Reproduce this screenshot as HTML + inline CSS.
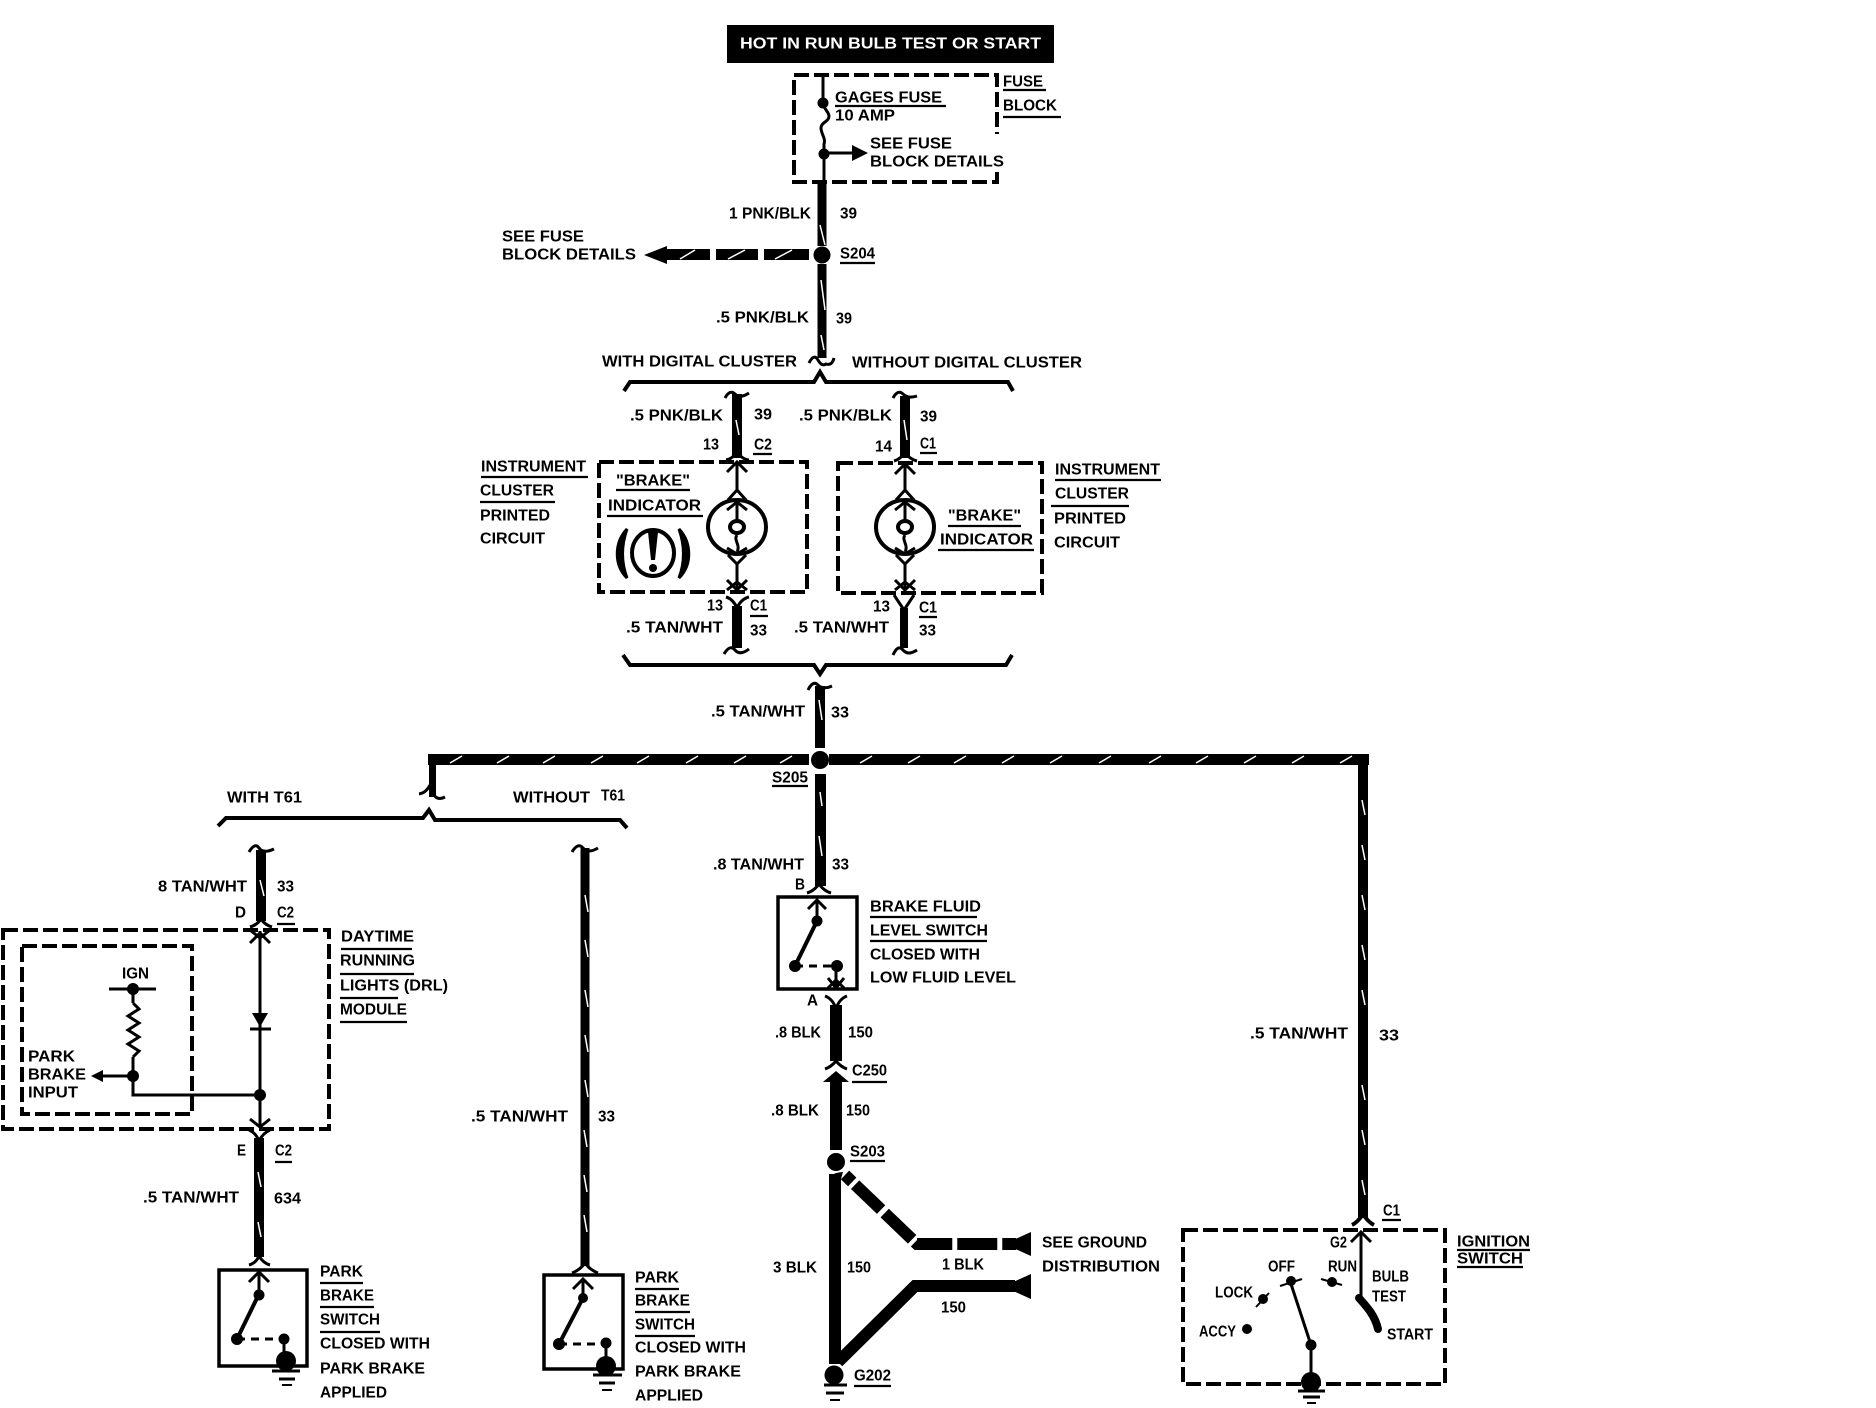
<!DOCTYPE html>
<html><head><meta charset="utf-8"><style>
html,body{margin:0;padding:0;background:#fff}
svg{display:block}
text{font-family:"Liberation Sans",sans-serif;font-weight:bold;font-size:16px;dominant-baseline:central;fill:#000}
.w{fill:none;stroke:#000;stroke-width:10}
.t{fill:none;stroke:#000;stroke-width:3}
.d{fill:none;stroke:#000;stroke-width:4;stroke-dasharray:15 5}
.u{stroke:#000;stroke-width:2.2}
.s{stroke:#fff;stroke-width:1.5}
</style></head><body>
<svg width="1876" height="1408" viewBox="0 0 1876 1408" xmlns="http://www.w3.org/2000/svg">
<rect width="1876" height="1408" fill="#fff"/>
<!-- header -->
<rect x="727" y="25" width="327" height="38" fill="#000"/>
<text x="740" y="44" textLength="301" lengthAdjust="spacingAndGlyphs" style="fill:#fff">HOT IN RUN BULB TEST OR START</text>
<!-- fuse block -->
<rect x="794" y="75" width="203" height="107" class="d"/>
<rect x="992" y="134" width="10" height="35" fill="#fff"/>
<path class="t" d="M823 75V103C823 108 829 112 829 116C829 122 821 122 821 128C821 134 826 138 824 144V182"/>
<circle cx="823" cy="103" r="5.5"/><circle cx="824" cy="154" r="5.5"/>
<path class="t" d="M824 153H855"/><path d="M852 145L868 153L852 161Z"/>
<text x="835" y="98" textLength="107" lengthAdjust="spacingAndGlyphs">GAGES FUSE</text><line class="u" x1="835" y1="106" x2="946" y2="106"/>
<text x="835" y="116" textLength="60" lengthAdjust="spacingAndGlyphs">10 AMP</text>
<text x="870" y="144" textLength="82" lengthAdjust="spacingAndGlyphs">SEE FUSE</text>
<text x="870" y="162" textLength="134" lengthAdjust="spacingAndGlyphs">BLOCK DETAILS</text>
<text x="1003" y="82" textLength="40" lengthAdjust="spacingAndGlyphs">FUSE</text><line class="u" x1="1003" y1="90" x2="1046" y2="90"/>
<text x="1003" y="106" textLength="54" lengthAdjust="spacingAndGlyphs">BLOCK</text><line class="u" x1="1003" y1="117" x2="1061" y2="117"/>
<!-- top wire -->
<path class="w" style="stroke-width:9" d="M822 182V246M822 264V358"/>
<line class="s" x1="820" y1="225" x2="825" y2="245"/><line class="s" x1="821" y1="280" x2="825" y2="310"/><line class="s" x1="821" y1="335" x2="824" y2="350"/>
<circle cx="822" cy="255" r="8.5"/>
<path class="t" d="M809 363Q814 353 818 360T826 364Q832 366 834 358"/>
<text x="729" y="214" textLength="82" lengthAdjust="spacingAndGlyphs">1 PNK/BLK</text><text x="840" y="214" textLength="17" lengthAdjust="spacingAndGlyphs">39</text>
<text x="840" y="254" textLength="35" lengthAdjust="spacingAndGlyphs">S204</text><line class="u" x1="840" y1="263" x2="875" y2="263"/>
<path d="M644 255L667 246V264Z"/>
<path d="M667 249H710V260H667ZM716 249H758V260H716ZM764 249H809V260H764Z"/>
<line class="s" x1="680" y1="259" x2="695" y2="250"/><line class="s" x1="728" y1="259" x2="745" y2="250"/><line class="s" x1="775" y1="259" x2="792" y2="250"/>
<text x="502" y="237" textLength="82" lengthAdjust="spacingAndGlyphs">SEE FUSE</text>
<text x="502" y="255" textLength="134" lengthAdjust="spacingAndGlyphs">BLOCK DETAILS</text>
<text x="716" y="318" textLength="93" lengthAdjust="spacingAndGlyphs">.5 PNK/BLK</text><text x="836" y="319" textLength="16" lengthAdjust="spacingAndGlyphs">39</text>
<text x="602" y="362" textLength="195" lengthAdjust="spacingAndGlyphs">WITH DIGITAL CLUSTER</text>
<text x="852" y="363" textLength="230" lengthAdjust="spacingAndGlyphs">WITHOUT DIGITAL CLUSTER</text>
<path class="t" d="M624 391L630 382H814L820 372L826 382H1008L1013 391" style="stroke-width:4"/>
<!-- cluster left -->
<path class="w" d="M737 394V458"/><line class="s" x1="736" y1="420" x2="739" y2="435"/>
<path class="t" d="M725 398Q730 389 735 394T749 393"/>
<path class="t" d="M726 460Q733 459 737 451Q741 459 749 460"/>
<text x="630" y="416" textLength="93" lengthAdjust="spacingAndGlyphs">.5 PNK/BLK</text><text x="754" y="415" textLength="18" lengthAdjust="spacingAndGlyphs">39</text>
<text x="703" y="445" textLength="16" lengthAdjust="spacingAndGlyphs">13</text><text x="754" y="445" textLength="18" lengthAdjust="spacingAndGlyphs">C2</text><line class="u" x1="753" y1="454" x2="772" y2="454"/>
<rect x="599" y="462" width="208" height="130" class="d"/>
<text x="481" y="467" textLength="105" lengthAdjust="spacingAndGlyphs">INSTRUMENT</text><line class="u" x1="481" y1="477" x2="588" y2="477"/>
<text x="480" y="491" textLength="74" lengthAdjust="spacingAndGlyphs">CLUSTER</text><line class="u" x1="480" y1="502" x2="555" y2="502"/>
<text x="480" y="516" textLength="70" lengthAdjust="spacingAndGlyphs">PRINTED</text>
<text x="480" y="539" textLength="65" lengthAdjust="spacingAndGlyphs">CIRCUIT</text>
<text x="616" y="481" textLength="74" lengthAdjust="spacingAndGlyphs">"BRAKE"</text><line class="u" x1="616" y1="490" x2="690" y2="490"/>
<text x="608" y="506" textLength="93" lengthAdjust="spacingAndGlyphs">INDICATOR</text><line class="u" x1="607" y1="516" x2="703" y2="516"/>
<ellipse cx="737" cy="527" rx="29" ry="27" fill="none" stroke="#000" stroke-width="4"/>
<path class="t" d="M737 462V490M737 564V592"/>
<path class="t" d="M727 472L737 462L747 472M728 500L737 490L746 500M727 510L737 502L747 510M727 548L737 554L747 548M728 555L737 564L746 555M727 580L737 590L747 580M727 590L737 582L747 590"/>
<path class="t" d="M737 502V520M737 535C733 540 741 545 737 552"/>
<ellipse cx="737" cy="527" rx="7" ry="6" fill="none" stroke="#000" stroke-width="4"/>
<ellipse cx="653" cy="553" rx="21" ry="23" fill="none" stroke="#000" stroke-width="4"/>
<path d="M648 532H658L655 560H651Z"/><circle cx="653" cy="568" r="4"/>
<path d="M627 529C614 543 614 565 627 578C621 562 621 546 627 529ZM679 529C692 543 692 565 679 578C685 562 685 546 679 529Z" stroke="#000" stroke-width="3"/>
<!-- cluster right -->
<path class="w" d="M905 396V458"/><line class="s" x1="904" y1="420" x2="907" y2="440"/>
<path class="t" d="M893 398Q898 389 903 394T917 396"/>
<path class="t" d="M894 461Q901 459 905 452Q909 459 917 461"/>
<text x="799" y="416" textLength="93" lengthAdjust="spacingAndGlyphs">.5 PNK/BLK</text><text x="920" y="417" textLength="17" lengthAdjust="spacingAndGlyphs">39</text>
<text x="875" y="447" textLength="17" lengthAdjust="spacingAndGlyphs">14</text><text x="920" y="444" textLength="16" lengthAdjust="spacingAndGlyphs">C1</text><line class="u" x1="920" y1="453" x2="937" y2="453"/>
<rect x="838" y="463" width="204" height="130" class="d"/>
<text x="1055" y="470" textLength="105" lengthAdjust="spacingAndGlyphs">INSTRUMENT</text><line class="u" x1="1055" y1="480" x2="1161" y2="480"/>
<text x="1055" y="494" textLength="74" lengthAdjust="spacingAndGlyphs">CLUSTER</text><line class="u" x1="1051" y1="506" x2="1129" y2="506"/>
<text x="1054" y="519" textLength="72" lengthAdjust="spacingAndGlyphs">PRINTED</text>
<text x="1054" y="543" textLength="66" lengthAdjust="spacingAndGlyphs">CIRCUIT</text>
<text x="948" y="516" textLength="73" lengthAdjust="spacingAndGlyphs">"BRAKE"</text><line class="u" x1="948" y1="526" x2="1021" y2="526"/>
<text x="940" y="540" textLength="93" lengthAdjust="spacingAndGlyphs">INDICATOR</text><line class="u" x1="938" y1="550" x2="1034" y2="550"/>
<ellipse cx="905" cy="527" rx="29" ry="27" fill="none" stroke="#000" stroke-width="4"/>
<path class="t" d="M905 464V490M905 564V592"/>
<path class="t" d="M895 474L905 464L915 474M896 500L905 490L914 500M895 510L905 502L915 510M895 548L905 554L915 548M896 555L905 564L914 555M895 580L905 590L915 580M895 590L905 582L915 590"/>
<path class="t" d="M905 502V520M905 535C901 540 909 545 905 552"/>
<ellipse cx="905" cy="527" rx="7" ry="6" fill="none" stroke="#000" stroke-width="4"/>
<!-- bottom stubs -->
<path class="w" d="M737 606V648"/>
<path class="t" d="M726 597Q733 599 737 608Q741 599 749 597M724 654Q730 644 735 650T749 649"/>
<text x="707" y="606" textLength="16" lengthAdjust="spacingAndGlyphs">13</text><text x="750" y="606" textLength="17" lengthAdjust="spacingAndGlyphs">C1</text><line class="u" x1="750" y1="616" x2="768" y2="616"/>
<text x="626" y="628" textLength="97" lengthAdjust="spacingAndGlyphs">.5 TAN/WHT</text><text x="750" y="631" textLength="17" lengthAdjust="spacingAndGlyphs">33</text>
<path d="M900 608H908V648H900Z"/>
<path class="t" d="M894 595L904 610L914 595M893 655Q898 644 903 650T917 650"/>
<text x="873" y="607" textLength="17" lengthAdjust="spacingAndGlyphs">13</text><text x="919" y="608" textLength="18" lengthAdjust="spacingAndGlyphs">C1</text><line class="u" x1="919" y1="617" x2="937" y2="617"/>
<text x="794" y="628" textLength="95" lengthAdjust="spacingAndGlyphs">.5 TAN/WHT</text><text x="919" y="631" textLength="17" lengthAdjust="spacingAndGlyphs">33</text>
<path class="t" d="M623 655L630 665H814L820 674L826 665H1006L1012 655" style="stroke-width:4"/>
<!-- s205 -->
<path class="w" d="M820 686V748"/><line class="s" x1="819" y1="700" x2="822" y2="720"/>
<path class="t" d="M808 690Q813 680 818 685T832 686"/>
<text x="711" y="712" textLength="94" lengthAdjust="spacingAndGlyphs">.5 TAN/WHT</text><text x="831" y="713" textLength="18" lengthAdjust="spacingAndGlyphs">33</text>
<path d="M428 754H809V765H428ZM829 754H1369V765H829Z"/>
<circle cx="820" cy="760" r="9"/>
<g class="s"><line x1="450" y1="763" x2="462" y2="756"/><line x1="497" y1="763" x2="509" y2="756"/><line x1="543" y1="763" x2="555" y2="756"/><line x1="591" y1="763" x2="603" y2="756"/><line x1="637" y1="763" x2="649" y2="756"/><line x1="686" y1="763" x2="698" y2="756"/><line x1="734" y1="763" x2="746" y2="756"/><line x1="780" y1="763" x2="792" y2="756"/><line x1="860" y1="763" x2="872" y2="756"/><line x1="908" y1="763" x2="920" y2="756"/><line x1="954" y1="763" x2="966" y2="756"/><line x1="1002" y1="763" x2="1014" y2="756"/><line x1="1050" y1="763" x2="1062" y2="756"/><line x1="1099" y1="763" x2="1111" y2="756"/><line x1="1149" y1="763" x2="1161" y2="756"/><line x1="1196" y1="763" x2="1208" y2="756"/><line x1="1244" y1="763" x2="1256" y2="756"/><line x1="1292" y1="763" x2="1304" y2="756"/><line x1="1340" y1="763" x2="1352" y2="756"/></g>
<text x="772" y="778" textLength="36" lengthAdjust="spacingAndGlyphs">S205</text><line class="u" x1="772" y1="786" x2="808" y2="786"/>
<path d="M815 774H826V886H815Z"/>
<line class="s" x1="819" y1="836" x2="822" y2="856"/><line class="s" x1="820" y1="792" x2="822" y2="806"/>
<!-- left drop -->
<path d="M429 765H436V797H429Z"/>
<path class="t" d="M419 794Q426 793 430 785M432 790Q435 802 445 797"/>
<text x="227" y="798" textLength="75" lengthAdjust="spacingAndGlyphs">WITH T61</text>
<text x="513" y="798" textLength="77" lengthAdjust="spacingAndGlyphs">WITHOUT</text><text x="601" y="796" textLength="24" lengthAdjust="spacingAndGlyphs">T61</text>
<path class="t" d="M218 826L226 818H423L429 810L435 820H620L627 828" style="stroke-width:4"/>
<!-- DRL -->
<path class="w" d="M261 850V921"/><line class="s" x1="260" y1="880" x2="264" y2="896"/>
<path class="t" d="M249 852Q255 842 259 848T274 849M250 927Q257 925 261 919Q265 925 272 927"/>
<text x="158" y="887" textLength="89" lengthAdjust="spacingAndGlyphs">8 TAN/WHT</text><text x="277" y="887" textLength="17" lengthAdjust="spacingAndGlyphs">33</text>
<text x="235" y="913" textLength="11" lengthAdjust="spacingAndGlyphs">D</text><text x="277" y="913" textLength="17" lengthAdjust="spacingAndGlyphs">C2</text><line class="u" x1="277" y1="924" x2="295" y2="924"/>
<rect x="3" y="930" width="326" height="199" class="d"/>
<rect x="22" y="946" width="170" height="168" class="d"/>
<text x="341" y="937" textLength="73" lengthAdjust="spacingAndGlyphs">DAYTIME</text><line class="u" x1="341" y1="949" x2="412" y2="949"/>
<text x="340" y="961" textLength="75" lengthAdjust="spacingAndGlyphs">RUNNING</text><line class="u" x1="340" y1="974" x2="414" y2="974"/>
<text x="340" y="986" textLength="108" lengthAdjust="spacingAndGlyphs">LIGHTS (DRL)</text><line class="u" x1="340" y1="998" x2="398" y2="998"/>
<text x="340" y="1010" textLength="67" lengthAdjust="spacingAndGlyphs">MODULE</text><line class="u" x1="340" y1="1022" x2="407" y2="1022"/>
<path class="t" d="M260 931V1127M250 943L260 933L270 943M250 930L260 938L270 930M250 1119L260 1127L270 1119"/>
<path d="M252 1013H268L260 1027Z"/><line x1="250" y1="1029" x2="271" y2="1029" stroke="#000" stroke-width="3"/>
<circle cx="260" cy="1095" r="6"/>
<path class="t" d="M260 1095H133V989"/>
<path class="t" d="M109 989H156"/><circle cx="133" cy="989" r="6"/>
<rect x="129" y="1003" width="8" height="54" fill="#fff"/>
<path class="t" d="M133 1003L139 1009L128 1016L139 1023L128 1030L139 1037L128 1044L139 1051L133 1057"/>
<circle cx="133" cy="1076" r="6"/>
<path class="t" d="M133 1076H102"/><path d="M91 1076L103 1070V1082Z"/>
<text x="122" y="974" textLength="27" lengthAdjust="spacingAndGlyphs">IGN</text>
<text x="28" y="1057" textLength="47" lengthAdjust="spacingAndGlyphs">PARK</text><text x="28" y="1075" textLength="58" lengthAdjust="spacingAndGlyphs">BRAKE</text><text x="28" y="1093" textLength="50" lengthAdjust="spacingAndGlyphs">INPUT</text>
<path class="w" d="M259 1138V1257"/><line class="s" x1="258" y1="1172" x2="261" y2="1187"/><line class="s" x1="258" y1="1222" x2="261" y2="1237"/>
<path class="t" d="M249 1130Q256 1133 259 1141Q263 1133 270 1130M249 1265Q256 1263 259 1256Q263 1263 270 1265"/>
<text x="237" y="1151" textLength="9" lengthAdjust="spacingAndGlyphs">E</text><text x="275" y="1151" textLength="17" lengthAdjust="spacingAndGlyphs">C2</text><line class="u" x1="275" y1="1162" x2="292" y2="1162"/>
<text x="143" y="1198" textLength="96" lengthAdjust="spacingAndGlyphs">.5 TAN/WHT</text><text x="274" y="1199" textLength="27" lengthAdjust="spacingAndGlyphs">634</text>
<!-- switch 1 -->
<g transform="translate(0,-6)">
<rect x="219" y="1276" width="88" height="96" fill="none" stroke="#000" stroke-width="3.5"/>
<path class="t" d="M259 1278V1300M249 1288L259 1278L269 1288"/><path class="t" style="stroke-width:4" d="M259 1300L237 1345"/>
<circle cx="259" cy="1301" r="5.5"/><circle cx="237" cy="1345" r="6"/><circle cx="284" cy="1345" r="5.5"/>
<path class="t" d="M237 1345H284" stroke-dasharray="8 6"/><path class="t" d="M284 1345V1365"/>
<circle cx="286" cy="1367" r="10"/>
<path class="t" d="M272 1377H300M279 1385H295"/><path d="M282 1390H292V1392H282Z"/>
<text x="320" y="1278" textLength="43" lengthAdjust="spacingAndGlyphs">PARK</text><line class="u" x1="320" y1="1289" x2="363" y2="1289"/>
<text x="320" y="1302" textLength="54" lengthAdjust="spacingAndGlyphs">BRAKE</text><line class="u" x1="320" y1="1313" x2="374" y2="1313"/>
<text x="320" y="1326" textLength="60" lengthAdjust="spacingAndGlyphs">SWITCH</text><line class="u" x1="320" y1="1338" x2="380" y2="1338"/>
<text x="320" y="1350" textLength="110" lengthAdjust="spacingAndGlyphs">CLOSED WITH</text>
<text x="320" y="1375" textLength="105" lengthAdjust="spacingAndGlyphs">PARK BRAKE</text>
<text x="320" y="1399" textLength="67" lengthAdjust="spacingAndGlyphs">APPLIED</text>
</g>
<!-- without T61 -->
<path class="w" d="M585 848V1266" style="stroke-width:9"/>
<g class="s"><line x1="585" y1="895" x2="588" y2="912"/><line x1="585" y1="940" x2="588" y2="957"/><line x1="585" y1="990" x2="588" y2="1007"/><line x1="585" y1="1035" x2="588" y2="1052"/><line x1="585" y1="1080" x2="588" y2="1097"/><line x1="584" y1="1130" x2="587" y2="1147"/><line x1="584" y1="1175" x2="587" y2="1192"/><line x1="584" y1="1215" x2="587" y2="1232"/></g>
<path class="t" d="M572 852Q578 842 583 848T598 848M572 1273Q580 1270 585 1263Q590 1270 598 1273"/>
<text x="471" y="1117" textLength="97" lengthAdjust="spacingAndGlyphs">.5 TAN/WHT</text><text x="598" y="1117" textLength="17" lengthAdjust="spacingAndGlyphs">33</text>
<g transform="translate(0,-6)">
<rect x="544" y="1281" width="79" height="94" fill="none" stroke="#000" stroke-width="3.5"/>
<path class="t" d="M583 1285V1304M573 1295L583 1285L593 1295"/><path class="t" style="stroke-width:4" d="M583 1304L559 1350"/>
<circle cx="583" cy="1304" r="5"/><circle cx="559" cy="1350" r="6"/><circle cx="606" cy="1349" r="5.5"/>
<path class="t" d="M559 1350H606" stroke-dasharray="8 6"/><path class="t" d="M606 1349V1368"/>
<circle cx="606" cy="1372" r="10"/>
<path class="t" d="M593 1381H622M599 1389H615"/><path d="M602 1395H612V1397H602Z"/>
<text x="635" y="1284" textLength="44" lengthAdjust="spacingAndGlyphs">PARK</text><line class="u" x1="635" y1="1295" x2="679" y2="1295"/>
<text x="635" y="1307" textLength="55" lengthAdjust="spacingAndGlyphs">BRAKE</text><line class="u" x1="635" y1="1318" x2="690" y2="1318"/>
<text x="635" y="1331" textLength="60" lengthAdjust="spacingAndGlyphs">SWITCH</text><line class="u" x1="635" y1="1342" x2="695" y2="1342"/>
<text x="635" y="1354" textLength="111" lengthAdjust="spacingAndGlyphs">CLOSED WITH</text>
<text x="635" y="1378" textLength="106" lengthAdjust="spacingAndGlyphs">PARK BRAKE</text>
<text x="635" y="1402" textLength="68" lengthAdjust="spacingAndGlyphs">APPLIED</text>
</g>
<!-- brake fluid switch -->
<path class="t" d="M807 893Q814 891 819 884Q824 891 831 893"/>
<text x="713" y="865" textLength="91" lengthAdjust="spacingAndGlyphs">.8 TAN/WHT</text><text x="832" y="865" textLength="17" lengthAdjust="spacingAndGlyphs">33</text>
<text x="795" y="885" textLength="10" lengthAdjust="spacingAndGlyphs">B</text>
<rect x="778" y="897" width="79" height="92" fill="none" stroke="#000" stroke-width="3.5"/>
<path class="t" d="M817 900V921M808 909L817 900L826 909"/><path class="t" style="stroke-width:4" d="M817 921L795 966"/>
<circle cx="817" cy="921" r="5.5"/><circle cx="795" cy="966" r="6"/><circle cx="837" cy="966" r="6"/>
<path class="t" d="M795 966H837" stroke-dasharray="8 6"/>
<path class="t" d="M836 966V988M828 978L836 988L844 978M828 988L836 980L844 988"/>
<text x="870" y="907" textLength="111" lengthAdjust="spacingAndGlyphs">BRAKE FLUID</text><line class="u" x1="870" y1="917" x2="977" y2="917"/>
<text x="870" y="931" textLength="118" lengthAdjust="spacingAndGlyphs">LEVEL SWITCH</text><line class="u" x1="870" y1="941" x2="987" y2="941"/>
<text x="870" y="955" textLength="110" lengthAdjust="spacingAndGlyphs">CLOSED WITH</text>
<text x="870" y="978" textLength="146" lengthAdjust="spacingAndGlyphs">LOW FLUID LEVEL</text>
<text x="807" y="1001" textLength="11" lengthAdjust="spacingAndGlyphs">A</text>
<path d="M830 1005H842V1061H830Z"/>
<path class="t" d="M825 996Q833 999 836 1009Q839 999 847 996M825 1069Q831 1067 836 1061Q841 1067 847 1069"/>
<path d="M823 1082L836 1071L849 1082H842V1150H830V1082Z"/>
<text x="775" y="1033" textLength="46" lengthAdjust="spacingAndGlyphs">.8 BLK</text><text x="848" y="1033" textLength="25" lengthAdjust="spacingAndGlyphs">150</text>
<text x="852" y="1071" textLength="35" lengthAdjust="spacingAndGlyphs">C250</text><line class="u" x1="852" y1="1082" x2="887" y2="1082"/>
<text x="771" y="1111" textLength="48" lengthAdjust="spacingAndGlyphs">.8 BLK</text><text x="846" y="1111" textLength="24" lengthAdjust="spacingAndGlyphs">150</text>
<circle cx="836" cy="1162" r="9"/>
<text x="850" y="1152" textLength="35" lengthAdjust="spacingAndGlyphs">S203</text><line class="u" x1="850" y1="1161" x2="885" y2="1161"/>
<path d="M829 1174H841V1364H829Z"/>
<path d="M829 1177Q835 1172 843 1172L841 1179H829Z"/>
<path fill="none" stroke="#000" stroke-width="12" stroke-dasharray="10 4 36 5 38 4 38 5 40 5 30" d="M845 1175L917 1244H1016"/>
<path d="M1011 1241L1031 1232V1256L1011 1247Z"/>
<path fill="none" stroke="#000" stroke-width="12" d="M838 1362L915 1286H1015"/>
<path d="M1011 1283L1031 1274V1299L1011 1290Z"/>
<circle cx="834" cy="1375" r="9.5"/>
<path class="t" d="M824 1385H847M826 1393H844"/><path d="M830 1399H840V1401H830Z"/>
<text x="854" y="1376" textLength="37" lengthAdjust="spacingAndGlyphs">G202</text><line class="u" x1="854" y1="1386" x2="891" y2="1386"/>
<text x="773" y="1268" textLength="44" lengthAdjust="spacingAndGlyphs">3 BLK</text><text x="847" y="1268" textLength="24" lengthAdjust="spacingAndGlyphs">150</text>
<text x="942" y="1265" textLength="42" lengthAdjust="spacingAndGlyphs">1 BLK</text><text x="941" y="1308" textLength="25" lengthAdjust="spacingAndGlyphs">150</text>
<text x="1042" y="1243" textLength="105" lengthAdjust="spacingAndGlyphs">SEE GROUND</text>
<text x="1042" y="1267" textLength="118" lengthAdjust="spacingAndGlyphs">DISTRIBUTION</text>
<!-- right wire & ignition -->
<path class="w" d="M1363 765V1218"/>
<g class="s"><line x1="1362" y1="800" x2="1365" y2="815"/><line x1="1362" y1="845" x2="1365" y2="860"/><line x1="1362" y1="895" x2="1365" y2="910"/><line x1="1362" y1="945" x2="1365" y2="960"/><line x1="1362" y1="990" x2="1365" y2="1005"/><line x1="1362" y1="1085" x2="1365" y2="1100"/><line x1="1362" y1="1130" x2="1365" y2="1145"/><line x1="1362" y1="1180" x2="1365" y2="1195"/></g>
<path class="t" d="M1352 1225Q1358 1222 1363 1214Q1368 1222 1374 1225" style="stroke-width:4"/>
<text x="1250" y="1034" textLength="98" lengthAdjust="spacingAndGlyphs">.5 TAN/WHT</text><text x="1379" y="1036" textLength="20" lengthAdjust="spacingAndGlyphs">33</text>
<text x="1383" y="1211" textLength="17" lengthAdjust="spacingAndGlyphs">C1</text><line class="u" x1="1382" y1="1220" x2="1401" y2="1220"/>
<rect x="1183" y="1230" width="262" height="154" class="d"/>
<text x="1330" y="1243" textLength="17" lengthAdjust="spacingAndGlyphs">G2</text>
<path class="t" d="M1361 1232V1296M1351 1242L1361 1232L1371 1242"/>
<path fill="none" stroke="#000" stroke-width="8" stroke-linecap="round" d="M1359 1298C1368 1308 1375 1316 1378 1329"/>
<text x="1372" y="1277" textLength="37" lengthAdjust="spacingAndGlyphs">BULB</text><text x="1372" y="1297" textLength="34" lengthAdjust="spacingAndGlyphs">TEST</text><text x="1387" y="1335" textLength="46" lengthAdjust="spacingAndGlyphs">START</text>
<text x="1268" y="1267" textLength="27" lengthAdjust="spacingAndGlyphs">OFF</text><text x="1328" y="1267" textLength="29" lengthAdjust="spacingAndGlyphs">RUN</text>
<text x="1215" y="1293" textLength="38" lengthAdjust="spacingAndGlyphs">LOCK</text><text x="1199" y="1332" textLength="37" lengthAdjust="spacingAndGlyphs">ACCY</text>
<circle cx="1291" cy="1281" r="5"/><path class="t" style="stroke-width:2" d="M1280 1286L1302 1279M1321 1279L1342 1285"/><circle cx="1332" cy="1282" r="5"/>
<circle cx="1263" cy="1299" r="5"/><path class="t" style="stroke-width:2" d="M1256 1307L1269 1293"/><circle cx="1247" cy="1329" r="5"/>
<path class="t" d="M1291 1284L1311 1345V1380"/><circle cx="1311" cy="1345" r="5.5"/>
<circle cx="1311" cy="1382" r="10"/>
<path class="t" d="M1298 1391H1325M1303 1397H1320"/><path d="M1307 1402H1316V1404H1307Z"/>
<text x="1457" y="1242" textLength="73" lengthAdjust="spacingAndGlyphs">IGNITION</text><line class="u" x1="1457" y1="1250" x2="1530" y2="1250"/>
<text x="1457" y="1259" textLength="66" lengthAdjust="spacingAndGlyphs">SWITCH</text><line class="u" x1="1457" y1="1267" x2="1523" y2="1267"/>
</svg>
</body></html>
